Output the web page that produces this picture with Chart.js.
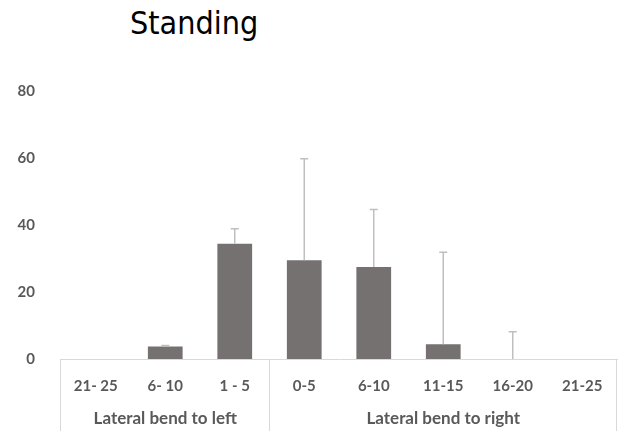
<!DOCTYPE html>
<html>
<head>
<meta charset="utf-8">
<script src="https://cdn.jsdelivr.net/npm/chart.js@4"></script>
<style>
  html, body { margin: 0; padding: 0; background: #fff; }
  #wrap { position: relative; width: 618px; height: 431px; }
  #title { position: absolute; left: 130px; top: 4px; font: 32px "DejaVu Sans Condensed", "DejaVu Sans", sans-serif; font-stretch: condensed; color: #000; }
  canvas { position: absolute; left: 0; top: 0; }
</style>
</head>
<body>
<div id="wrap">
  <div id="title">Standing</div>
  <canvas id="chart" width="618" height="431"></canvas>
</div>
<script>
// Dados
const categories = ["21- 25", "6- 10", "1 - 5", "0-5", "6-10", "11-15", "16-20", "21-25"];
const values = [0, 3.7, 34.4, 29.5, 27.5, 4.4, 0, 0];
const errors = [0, 0.3, 4.5, 30.3, 17.1, 27.5, 8.1, 0];
const groupNames = ["Lateral bend to left", "Lateral bend to right"];
const groupSizes = [3, 5];
const yTicks = [0, 20, 40, 60, 80];

const labelFont = { family: "Lato, 'Open Sans', sans-serif", size: 15, weight: "bold" };
const groupFontSize = 17;
const labelColor = "#595959";
const lineColor = "#d9d9d9";

// barras de erro (só para cima) + rótulos de grupo
const extras = {
  id: "extras",
  afterDatasetsDraw(chart) {
    const { ctx, scales: { x, y }, chartArea } = chart;
    ctx.save();
    ctx.strokeStyle = "#bfbfbf";
    ctx.lineWidth = 1.5;
    values.forEach((v, i) => {
      if (!errors[i]) return;
      const px = x.getPixelForValue(i);
      const y0 = y.getPixelForValue(v);
      const y1 = y.getPixelForValue(v + errors[i]);
      ctx.beginPath();
      ctx.moveTo(px, y0);
      ctx.lineTo(px, y1);
      ctx.moveTo(px - 4, y1);
      ctx.lineTo(px + 4, y1);
      ctx.stroke();
    });

    // linhas da tabela e nomes dos grupos
    ctx.strokeStyle = lineColor;
    ctx.lineWidth = 1;
    const half = (x.getPixelForValue(1) - x.getPixelForValue(0)) / 2;
    let start = 0;
    const edges = [x.getPixelForValue(0) - half];
    groupSizes.forEach(n => {
      edges.push(x.getPixelForValue(start + n - 1) + half);
      start += n;
    });
    edges.forEach(e => {
      const ex = Math.round(e) - 0.5;
      ctx.beginPath();
      ctx.moveTo(ex, chartArea.bottom);
      ctx.lineTo(ex, chart.height);
      ctx.stroke();
    });
    ctx.fillStyle = labelColor;
    ctx.font = `bold ${groupFontSize}px ${labelFont.family}`;
    ctx.textAlign = "center";
    ctx.textBaseline = "middle";
    groupNames.forEach((g, k) => {
      ctx.fillText(g, (edges[k] + edges[k + 1]) / 2, 419);
    });
    ctx.restore();
  }
};

new Chart(document.getElementById("chart"), {
  type: "bar",
  data: {
    labels: categories,
    datasets: [{
      data: values,
      backgroundColor: "#767171",
      borderWidth: 0,
      barPercentage: 0.5,
      categoryPercentage: 1
    }]
  },
  options: {
    responsive: false,
    animation: false,
    layout: { padding: { top: 91, right: 1, left: 0, bottom: 0 } },
    plugins: { legend: { display: false }, tooltip: { enabled: false } },
    scales: {
      x: {
        grid: { display: false },
        border: { display: true, color: lineColor, width: 1 },
        ticks: { color: labelColor, font: labelFont, padding: 10, maxRotation: 0 },
        afterFit(s) { s.height = 72; }
      },
      y: {
        min: 0,
        max: 80,
        afterBuildTicks(s) { s.ticks = yTicks.map(v => ({ value: v })); },
        grid: { display: false },
        border: { display: false },
        ticks: { color: labelColor, font: labelFont, padding: 18 },
        afterFit(s) { s.width = 61; }
      }
    }
  },
  plugins: [extras]
});
</script>
</body>
</html>
